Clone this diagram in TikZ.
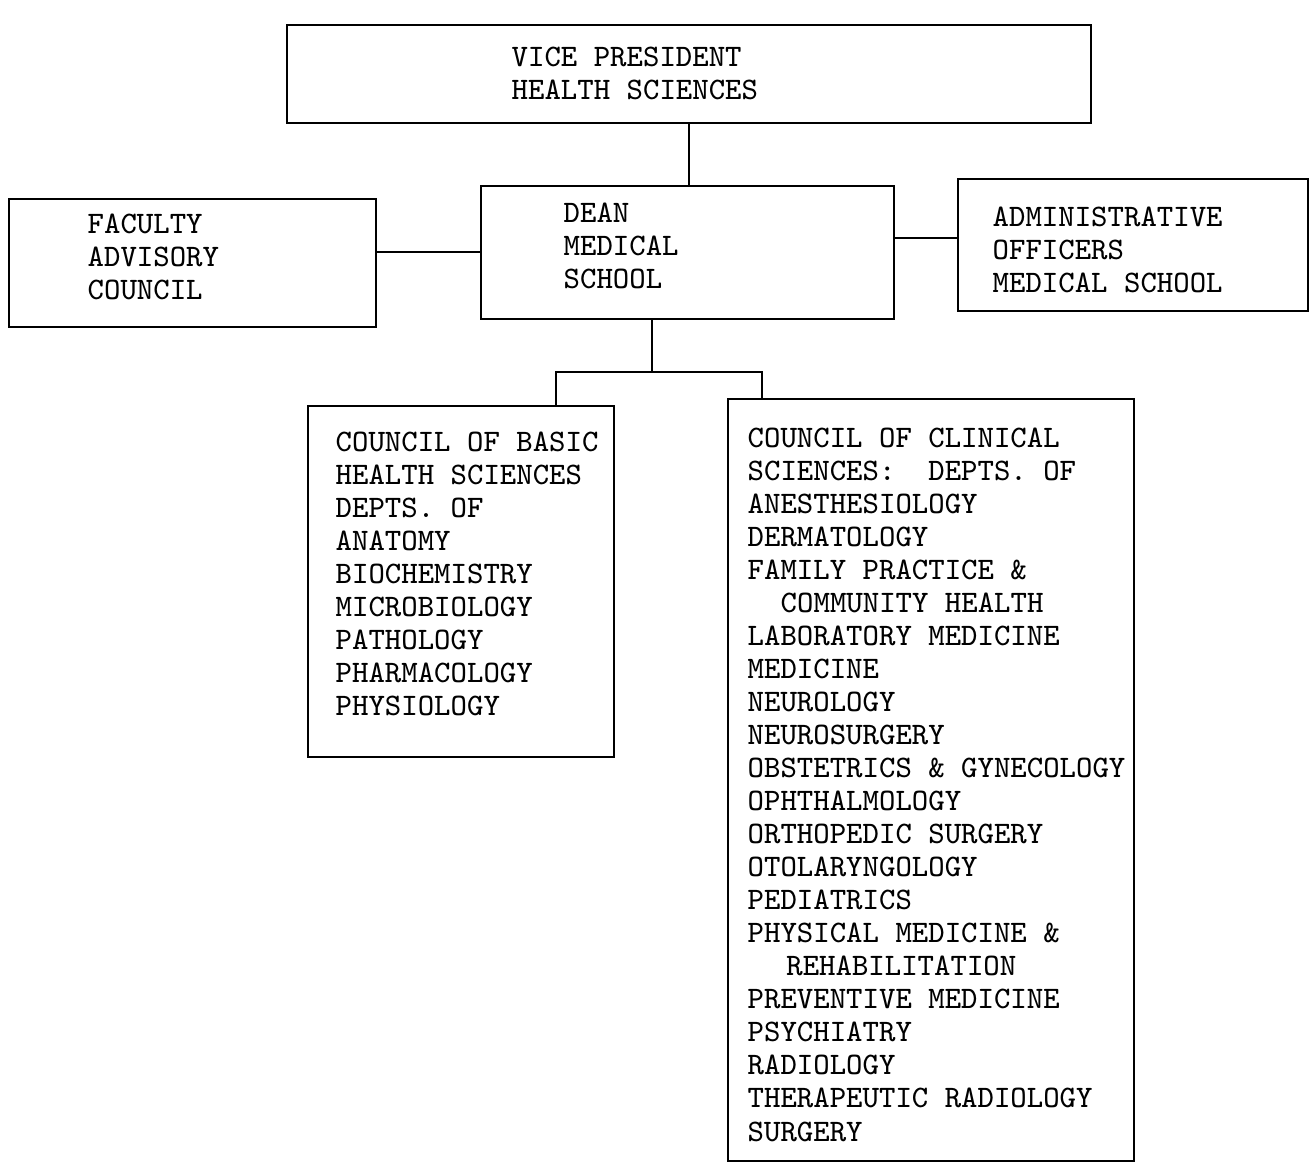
\documentclass[tikz,border=0pt]{standalone}
\usetikzlibrary{positioning}
\usetikzlibrary{calc}

\begin{document}
\begin{tikzpicture}[
orgbox/.style={rectangle, draw=black!100, line width=0.5pt, inner sep=0pt, anchor=north west},
orgtext/.style={anchor=north west, inner sep=0pt, align=left,
font=\ttfamily\fontsize{8.9pt}{9.4pt}\selectfont}
]
\useasboundingbox (0,0) rectangle (13.1,-11.67);

%Boxes
\node[orgbox, minimum width=8.04cm, minimum height=0.98cm] (vp) at (2.86,-0.24) {};
\node[orgbox, minimum width=3.67cm, minimum height=1.28cm] (faculty) at (0.08,-1.98) {};
\node[orgbox, minimum width=4.13cm, minimum height=1.33cm] (dean) at (4.80,-1.85) {};
\node[orgbox, minimum width=3.50cm, minimum height=1.32cm] (admin) at (9.57,-1.78) {};
\node[orgbox, minimum width=3.06cm, minimum height=3.51cm] (basic) at (3.07,-4.05) {};
\node[orgbox, minimum width=4.06cm, minimum height=7.62cm] (clinical) at (7.27,-3.98) {};

%Texts
\node[orgtext] (vptext) at (5.11,-0.46) {VICE PRESIDENT\\HEALTH SCIENCES};
\node[orgtext] (facultytext) at (0.87,-2.13) {FACULTY\\ADVISORY\\COUNCIL};
\node[orgtext] (deantext) at (5.63,-2.02) {DEAN\\MEDICAL\\SCHOOL};
\node[orgtext] (admintext) at (9.92,-2.06) {ADMINISTRATIVE\\OFFICERS\\MEDICAL SCHOOL};
\node[orgtext] (basictext) at (3.35,-4.31) {COUNCIL OF BASIC\\HEALTH SCIENCES\\DEPTS. OF\\ANATOMY\\BIOCHEMISTRY\\MICROBIOLOGY\\PATHOLOGY\\PHARMACOLOGY\\PHYSIOLOGY};
\node[orgtext] (clinicaltext) at (7.47,-4.27) {COUNCIL OF CLINICAL\\SCIENCES:\ \ DEPTS. OF\\ANESTHESIOLOGY\\DERMATOLOGY\\FAMILY PRACTICE \&\\\hspace*{9.4pt}COMMUNITY HEALTH\\LABORATORY MEDICINE\\MEDICINE\\NEUROLOGY\\NEUROSURGERY\\OBSTETRICS \& GYNECOLOGY\\OPHTHALMOLOGY\\ORTHOPEDIC SURGERY\\OTOLARYNGOLOGY\\PEDIATRICS\\PHYSICAL MEDICINE \&\\\hspace*{11pt}REHABILITATION\\PREVENTIVE MEDICINE\\PSYCHIATRY\\RADIOLOGY\\THERAPEUTIC RADIOLOGY\\SURGERY};

%Coordinates
\coordinate (fork) at (6.52,-3.72);
\coordinate (forkl) at (5.56,-3.72);
\coordinate (forkr) at (7.62,-3.72);

%Lines
\draw[line width=0.5pt] (vp.south) -- (vp.south |- dean.north);
\draw[line width=0.5pt] (dean.west) -- (dean.west -| faculty.east);
\draw[line width=0.5pt] ([yshift=0.14cm]dean.east) -- ([yshift=0.14cm]dean.east -| admin.west);
\draw[line width=0.5pt] (dean.south -| fork) -- (fork);
\draw[line width=0.5pt] (forkl |- basic.north) -- (forkl) -- (forkr) -- (forkr |- clinical.north);

\end{tikzpicture}
\end{document}
